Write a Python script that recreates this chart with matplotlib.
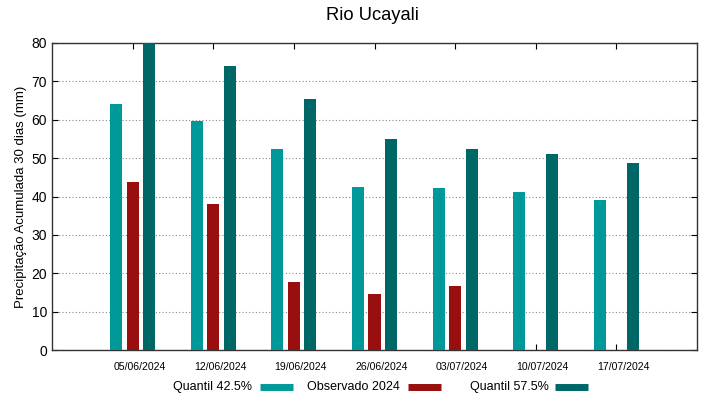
import matplotlib
matplotlib.use("Agg")
import matplotlib.pyplot as plt
from matplotlib.lines import Line2D
import matplotlib.transforms as mtransforms
import numpy as np

plt.rcParams['font.family'] = ['Liberation Sans', 'DejaVu Sans']

dates = ["05/06/2024", "12/06/2024", "19/06/2024", "26/06/2024", "03/07/2024", "10/07/2024", "17/07/2024"]
q425 = [64.1, 59.6, 52.5, 42.5, 42.3, 41.2, 39.1]
obs2024 = [43.8, 38.0, 17.6, 14.5, 16.8, np.nan, np.nan]
q575 = [80.0, 74.1, 65.4, 55.1, 52.5, 51.0, 48.7]
yticks = [0, 10, 20, 30, 40, 50, 60, 70, 80]
labels = ["Quantil 42.5%", "Observado 2024", "Quantil 57.5%"]

c1 = "#009999"
c2 = "#990e0e"
c3 = "#006767"

W, H = 719, 399
fig = plt.figure(figsize=(W/100, H/100), dpi=100)
ax = fig.add_axes([52/W, 1-350/H, (697-52)/W, (350-43)/H])

x = np.arange(len(dates))
w = 0.15
off = 0.205
ax.bar(x - off, q425, width=w, color=c1, zorder=3)
ax.bar(x, obs2024, width=w, color=c2, zorder=3)
ax.bar(x + off, q575, width=w, color=c3, zorder=3)

ax.set_xlim(-1, 7)
ax.set_ylim(0, 80)
ax.set_yticks(yticks)
ax.set_xticks(x)
ax.set_xticklabels(dates, fontsize=7.6)
ax.tick_params(axis='y', labelsize=10, direction='in', right=True, length=4)
ax.tick_params(axis='x', direction='in', top=True, length=4, pad=9)
offset = mtransforms.ScaledTranslation(7/100, 0, fig.dpi_scale_trans)
for lbl in ax.get_xticklabels():
    lbl.set_transform(lbl.get_transform() + offset)
ax.yaxis.grid(True, linestyle=(0, (1, 2)), color='#888888', linewidth=0.8, zorder=0)
ax.set_axisbelow(True)
for s in ax.spines.values():
    s.set_color('#333333')
    s.set_linewidth(1.0)
ax.set_ylabel("Precipitação Acumulada 30 dias (mm)", fontsize=9.5, labelpad=3)

fig.text(372.5/W, 1-16/H, "Rio Ucayali", ha='center', va='center', fontsize=13.2)

# legend entries (text followed by sample), gnuplot-style
ly = 1-387/H
text_right = [252, 400, 548.5]
line_spans = [(260, 293), (408, 441), (555, 588)]
for lab, tr, (l0, l1), c in zip(labels, text_right, line_spans, (c1, c2, c3)):
    fig.text(tr/W, ly, lab, ha='right', va='center', fontsize=9)
    fig.add_artist(Line2D([l0/W, l1/W], [ly, ly], color=c, linewidth=5,
                          solid_capstyle='butt', transform=fig.transFigure))

fig.savefig("out.png", dpi=100)
